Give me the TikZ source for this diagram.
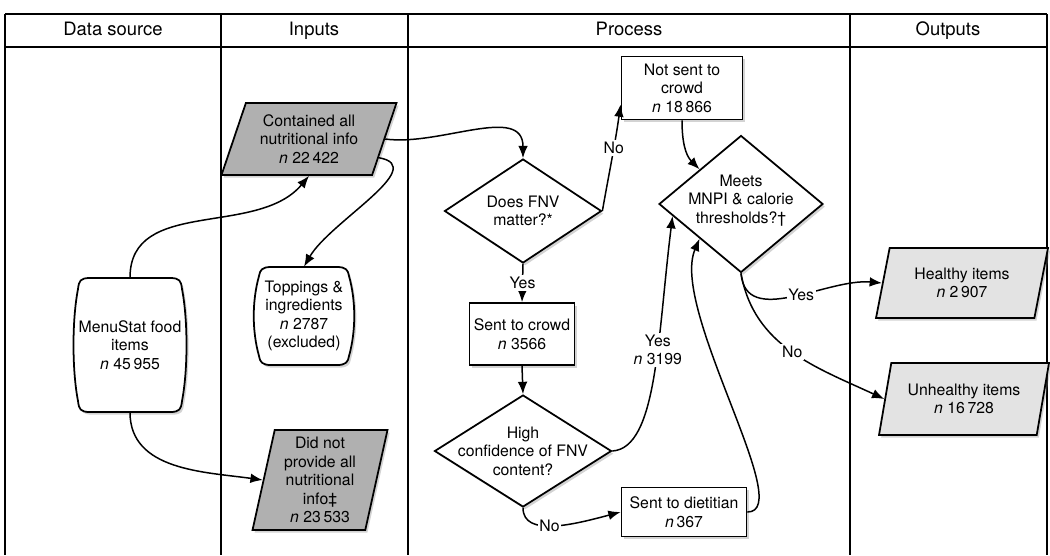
\documentclass[tikz,border=0pt]{standalone}
\usepackage{fontspec}
\setmainfont{TeX Gyre Heros}
\usetikzlibrary{shapes.geometric,arrows.meta,shadows}

\begin{document}
\begin{tikzpicture}[x=0.02cm,y=-0.02cm,
    every node/.style={font=\fontsize{9}{10.5}\selectfont,align=center},
    headtext/.style={font=\fontsize{10.5}{12}\selectfont,text height=8pt,text depth=2.5pt},
    boxshadow/.style={drop shadow={opacity=0.35,shadow xshift=1.2pt,shadow yshift=-1.5pt}},
    procbox/.style={rectangle,draw,line width=1pt,fill=white,boxshadow,inner sep=1pt},
    question/.style={diamond,draw,line width=1pt,fill=white,boxshadow,inner sep=0pt},
    databox/.style={trapezium,trapezium stretches body,draw,line width=1pt,boxshadow,inner xsep=1pt,inner ysep=1pt},
    barrel/.style={line width=1pt,fill=white,boxshadow},
    flow/.style={line width=0.85pt,-{Latex[length=7pt,width=5.5pt]}},
    flowlabel/.style={fill=white,inner sep=1pt},
    gridline/.style={line width=0.9pt}]
  \useasboundingbox (0,0) rectangle (1050,555);

  % Changing color 176 176 176
  \definecolor{r176g176b176}{rgb}{0.690196,0.690196,0.690196}%
  % Changing color 227 227 227
  \definecolor{r227g227b227}{rgb}{0.890196,0.890196,0.890196}%

  % Drawing table lines
  \draw [gridline] (5,14) -- (1047,14);
  \draw [gridline] (5,47) -- (1047,47);
  \foreach \x in {5,221,408,850,1047}
    \draw [gridline] (\x,14) -- (\x,555);

  % Column heads
  \node [headtext] (hsource) at (113,31) {Data source};
  \node [headtext] (hinputs) at (314,31) {Inputs};
  \node [headtext] (hprocess) at (629,31) {Process};
  \node [headtext] (houtputs) at (948,31) {Outputs};

  % Drawing barrel MenuStat
  \coordinate (msc) at (130,345);
  \draw [barrel, shift={(msc)}] (-40,-67) -- (40,-67) .. controls (50,-67) and (51,-64) .. (52,-56)
    .. controls (58,-25) and (58,25) .. (52,56) .. controls (51,64) and (50,67) .. (40,67)
    -- (-40,67) .. controls (-50,67) and (-51,64) .. (-52,56)
    .. controls (-58,25) and (-58,-25) .. (-52,-56) .. controls (-51,-64) and (-50,-67) .. (-40,-67) -- cycle;
  \node [minimum width=2.3cm, minimum height=2.68cm] (ms) at (msc) {MenuStat food\\items\\\textit{n}~45\,955};

  % Drawing barrel Toppings
  \coordinate (topc) at (304,316);
  \draw [barrel, shift={(topc)}] (-33,-49) -- (33,-49) .. controls (42,-49) and (44,-46) .. (45,-40)
    .. controls (52,-15) and (52,15) .. (45,40) .. controls (44,46) and (42,49) .. (33,49)
    -- (-33,49) .. controls (-42,49) and (-44,46) .. (-45,40)
    .. controls (-52,15) and (-52,-15) .. (-45,-40) .. controls (-44,-46) and (-42,-49) .. (-33,-49) -- cycle;
  \node [minimum width=2.04cm, minimum height=1.96cm] (top) at (topc) {Toppings \&\\ingredients\\\textit{n}~2787\\(excluded)};

  % Drawing data boxes
  \node [databox, fill=r176g176b176, trapezium left angle=65, trapezium right angle=115,
    minimum width=3.5cm, minimum height=1.44cm] (cont) at (309,139)
    {Contained all\\nutritional info\\\textit{n}~22\,422};
  \node [databox, fill=r176g176b176, trapezium left angle=76, trapezium right angle=104,
    minimum width=2.7cm, minimum height=2cm] (didnot) at (320,480)
    {Did not\\provide all\\nutritional\\info\textdaggerdbl\\\textit{n}~23\,533};
  \node [databox, fill=r227g227b227, trapezium left angle=68, trapezium right angle=112,
    minimum width=3.44cm, minimum height=1.4cm] (healthy) at (962,283)
    {Healthy items\\\textit{n}~2\,907};
  \node [databox, fill=r227g227b227, trapezium left angle=70, trapezium right angle=110,
    minimum width=3.4cm, minimum height=1.44cm] (unh) at (964,399)
    {Unhealthy items\\\textit{n}~16\,728};

  % Drawing process boxes
  \node [procbox, minimum width=2.42cm, minimum height=1.26cm] (notsent) at (682,88)
    {Not sent to\\crowd\\\textit{n}~18\,866};
  \node [procbox, minimum width=2.1cm, minimum height=1.24cm] (crowd) at (522,334)
    {Sent to crowd\\\textit{n}~3566};
  \node [procbox, minimum width=2.5cm, minimum height=0.98cm] (diet) at (684,512)
    {Sent to dietitian\\\textit{n}\,367};

  % Drawing questions
  \node [question, minimum width=3.14cm, minimum height=2.08cm,
    label={center:{Does FNV\\matter?*}}] (dfnv) at (523,211) {};
  \node [question, minimum width=3.54cm, minimum height=2.24cm,
    label={center:{High\\confidence of FNV\\content?}}] (hiconf) at (523,451) {};
  \node [question, minimum width=3.28cm, minimum height=2.74cm,
    label={[yshift=2pt]center:{Meets\\MNPI \& calorie\\thresholds?\textdagger}}] (meets) at (741,204) {};

  % Drawing connectors
  \draw [flow] (ms.north) to[out=90,in=230] (cont.south);
  \draw [flow] (ms.south) to[out=270,in=172] (didnot.west);
  \draw [flow] (cont.-15) to[out=-10,in=60] (top.north);
  \draw [flow] (cont.east) to[out=-8,in=90] (dfnv.north);
  \draw [flow] (dfnv.east) to[out=80,in=262] node[flowlabel,pos=0.6] {No} (notsent.195);
  \draw [flow] (notsent.south) to[out=270,in=135] (meets.north west);
  \draw [flow] (dfnv.south) -- node[flowlabel] {Yes} (crowd.north);
  \draw [flow] (crowd.south) -- (hiconf.north);
  \draw [flow] (hiconf.east) .. controls +(45,-3) and +(-15,120) ..
    node[flowlabel,pos=0.6] {Yes\\\textit{n}~3199} (meets.190);
  \draw [flow] (hiconf.south) .. controls +(0,30) and +(-45,12) ..
    node[flowlabel,pos=0.45] {No} (diet.west);
  \draw [flow] (diet.east) .. controls +(50,0) and +(-30,70) .. (meets.south west);
  \draw [flow] (meets.south) to[out=-85,in=175] node[flowlabel,pos=0.55] {Yes} (healthy.west);
  \draw [flow] (meets.south) to[out=-80,in=155] node[flowlabel,pos=0.5] {No} (unh.west);
\end{tikzpicture}
\end{document}
